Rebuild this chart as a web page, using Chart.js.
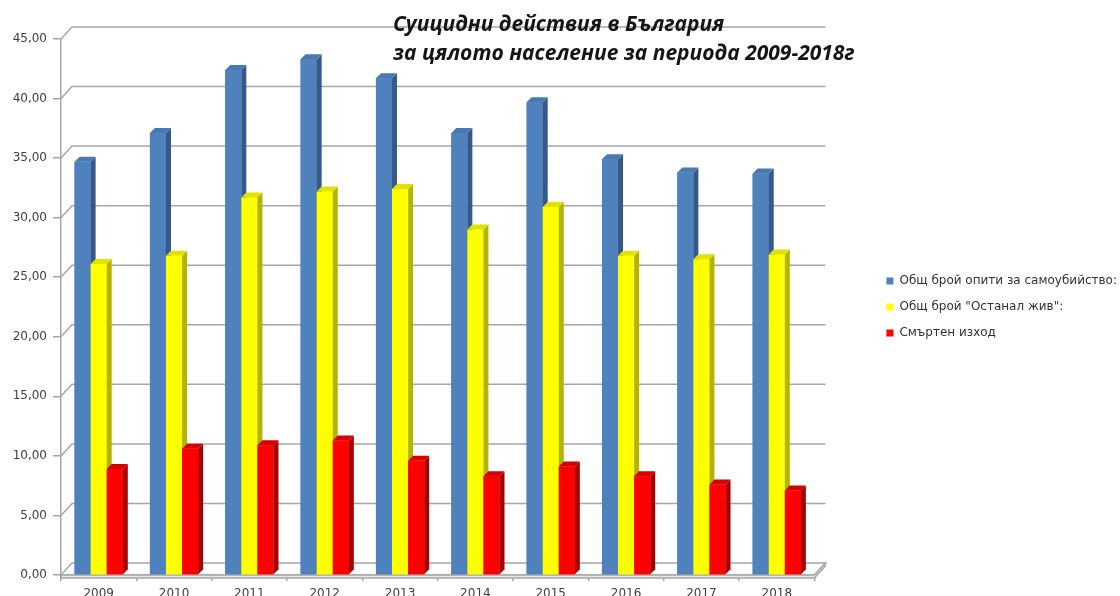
<!DOCTYPE html>
<html>
<head>
<meta charset="utf-8">
<script src="https://cdn.jsdelivr.net/npm/chart.js@4.4.0/dist/chart.umd.min.js"></script>
<style>
  html,body{margin:0;padding:0;background:#fff;}
</style>
</head>
<body>
<canvas id="grafico" width="1120" height="596"></canvas>
<script>
const godini   = ['2009','2010','2011','2012','2013','2014','2015','2016','2017','2018'];
const opiti    = [34.7, 37.1, 42.4, 43.3, 41.7, 37.1, 39.7, 34.9, 33.8, 33.7];
const zhivi    = [26.1, 26.8, 31.7, 32.2, 32.4, 29.0, 30.9, 26.8, 26.5, 26.9];
const smartni  = [8.9, 10.6, 10.9, 11.3, 9.6, 8.3, 9.1, 8.3, 7.6, 7.1];
const imena    = ['Общ брой опити за самоубийство:', 'Общ брой "Останал жив":', 'Смъртен изход'];
const zaglavie = ['Суицидни действия в България', 'за цялото население за периода 2009-2018г'];

// 3D отмествания
const DX = 5, DY = 5;    // дълбочина на колоните
const WX = 11, WY = 12;  // задна стена / под
const SIVO = '#a6a6a6';

const lica = [
  {front:'#4f81bd', side:'#36598a', top:'#4a78b0'},
  {front:'#ffff00', side:'#b4b400', top:'#e2e200'},
  {front:'#ff0000', side:'#a80000', top:'#d40000'}
];

const obemen = {
  id:'obemen',
  beforeDatasetsDraw(chart){
    const {ctx, chartArea:a, scales:{y}} = chart;
    ctx.save();
    ctx.strokeStyle = SIVO;
    ctx.lineWidth = 1.5;
    // под
    ctx.fillStyle = '#ffffff';
    ctx.beginPath();
    ctx.moveTo(a.left, a.bottom);
    ctx.lineTo(a.right, a.bottom);
    ctx.lineTo(a.right+WX, a.bottom-WY);
    ctx.lineTo(a.left+WX, a.bottom-WY);
    ctx.closePath();
    ctx.fill(); ctx.stroke();
    ctx.fillStyle = '#e6e6e6';
    ctx.beginPath();
    ctx.moveTo(a.left, a.bottom);
    ctx.lineTo(a.right, a.bottom);
    ctx.lineTo(a.right+WX, a.bottom-WY);
    ctx.lineTo(a.right+WX, a.bottom-WY+3);
    ctx.lineTo(a.right, a.bottom+3);
    ctx.lineTo(a.left, a.bottom+3);
    ctx.closePath();
    ctx.fill(); ctx.stroke();
    // линии на задната стена
    y.ticks.forEach(t => {
      if (t.value === 0) return;
      const py = y.getPixelForValue(t.value);
      ctx.beginPath();
      ctx.moveTo(a.left, py);
      ctx.lineTo(a.left+WX, py-WY);
      ctx.lineTo(a.right+WX, py-WY);
      ctx.stroke();
    });
    ctx.restore();
  },
  afterDatasetsDraw(chart){
    const ctx = chart.ctx;
    ctx.save();
    chart.data.datasets.forEach((ds, i) => {
      const meta = chart.getDatasetMeta(i);
      const c = lica[i];
      meta.data.forEach(bar => {
        bar.draw(ctx);
        const {x, y, base, width} = bar.getProps(['x','y','base','width'], true);
        const l = x - width/2, r = x + width/2;
        ctx.fillStyle = c.side;
        ctx.beginPath();
        ctx.moveTo(r, y); ctx.lineTo(r+DX, y-DY);
        ctx.lineTo(r+DX, base-DY); ctx.lineTo(r, base);
        ctx.closePath(); ctx.fill();
        ctx.fillStyle = c.top;
        ctx.beginPath();
        ctx.moveTo(l, y); ctx.lineTo(l+DX, y-DY);
        ctx.lineTo(r+DX, y-DY); ctx.lineTo(r, y);
        ctx.closePath(); ctx.fill();
      });
    });
    ctx.restore();
  },
  afterDraw(chart){
    const ctx = chart.ctx;
    ctx.save();
    ctx.fillStyle = '#151515';
    ctx.font = 'italic bold 21px "Open Sans"';
    ctx.textAlign = 'left';
    ctx.textBaseline = 'alphabetic';
    ctx.fillText(zaglavie[0], 393, 31);
    ctx.fillText(zaglavie[1], 393, 60);
    ctx.restore();
  }
};

Chart.defaults.font.family = '"DejaVu Sans"';
Chart.defaults.font.size = 12;
Chart.defaults.color = '#404040';

new Chart(document.getElementById('grafico'), {
  type:'bar',
  data:{
    labels: godini,
    datasets:[
      {label:imena[0], data:opiti,   backgroundColor:lica[0].front},
      {label:imena[1], data:zhivi,   backgroundColor:lica[1].front},
      {label:imena[2], data:smartni, backgroundColor:lica[2].front}
    ]
  },
  options:{
    responsive:false,
    animation:false,
    layout:{padding:{top:39, right:-7, bottom:0, left:0}},
    datasets:{bar:{categoryPercentage:0.64, barPercentage:1.0, borderWidth:0}},
    plugins:{
      legend:{
        position:'right',
        fullSize:false,
        maxWidth:400,
        labels:{boxWidth:7, boxHeight:7, padding:14, color:'#333', font:{size:12}}
      },
      tooltip:{enabled:false}
    },
    scales:{
      x:{
        grid:{display:true, drawOnChartArea:false, offset:true, tickLength:6, color:SIVO, lineWidth:1.5},
        border:{display:false},
        ticks:{padding:6, color:'#404040'},
        afterFit(s){ s.height = 21; }
      },
      y:{
        min:0, max:45,
        grid:{display:true, drawOnChartArea:false, tickLength:8, color:SIVO, lineWidth:1.5},
        border:{display:true, color:SIVO, width:1.5},
        ticks:{stepSize:5, padding:6, color:'#404040',
               callback:v => v.toFixed(2).replace('.', ',')},
        afterFit(s){ s.width = 61; }
      },
      prazno:{
        type:'linear', position:'right', display:true,
        grid:{display:false}, border:{display:false}, ticks:{display:false},
        afterFit(s){ s.width = 58; }
      }
    }
  },
  plugins:[obemen]
});
</script>
</body>
</html>
